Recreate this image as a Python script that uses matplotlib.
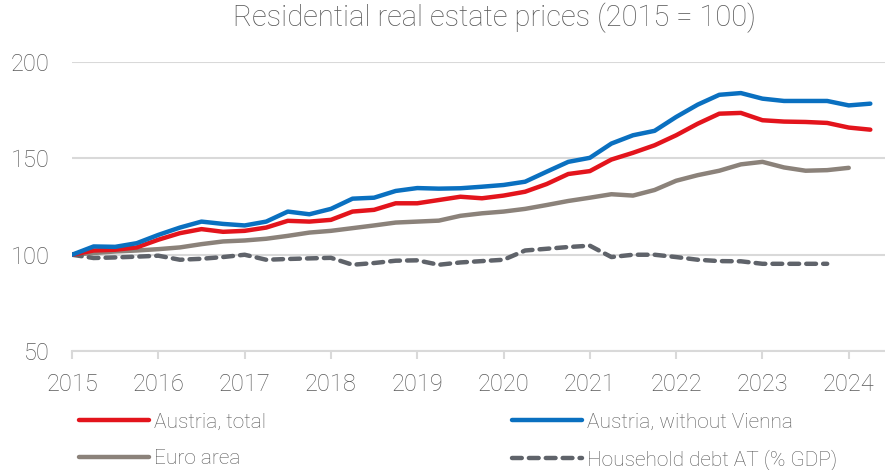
import numpy as np
import matplotlib.pyplot as plt

# quarterly data, 2015Q1 = 100
austria_total = [100, 102.2, 102.6, 103.8, 107.8, 111.2, 113.3, 111.9, 112.4, 114.1,
                 117.6, 117.2, 118.1, 122.4, 123.3, 126.7, 126.7, 128.4, 130.1, 129.3,
                 130.7, 132.7, 136.7, 141.9, 143.4, 149.4, 152.9, 156.8, 162.0, 168.0,
                 173.2, 173.6, 169.8, 169.1, 168.9, 168.4, 166.0, 164.9]
austria_ohne_wien = [100, 104.3, 104.1, 106.0, 110.3, 114.1, 117.2, 116.0, 115.2, 117.2,
                     122.4, 121.0, 123.8, 129.1, 129.6, 133.1, 134.6, 134.3, 134.5, 135.3,
                     136.2, 137.9, 143.1, 148.2, 150.3, 157.7, 162.0, 164.3, 171.5, 177.9,
                     183.0, 183.9, 181.0, 179.8, 179.8, 179.8, 177.5, 178.4]
euro_area = [100, 100.9, 101.7, 102.2, 102.9, 103.8, 105.5, 106.9, 107.4, 108.3,
             109.8, 111.5, 112.4, 113.8, 115.2, 116.7, 117.2, 117.7, 120.2, 121.5,
             122.4, 123.8, 125.8, 127.9, 129.6, 131.4, 130.7, 133.6, 138.4, 141.3,
             143.6, 146.9, 148.2, 145.3, 143.6, 143.9, 145.1]
household_debt = [100, 98.3, 98.6, 99.0, 99.5, 97.4, 97.9, 98.8, 100.0, 97.4,
                  97.8, 98.1, 98.4, 94.8, 95.7, 96.9, 97.1, 94.8, 96.0, 96.7,
                  97.4, 102.2, 103.1, 104.0, 104.7, 98.8, 100.0, 100.0, 98.8, 97.4,
                  96.7, 96.6, 95.3, 95.3, 95.3, 95.3]
jahre = list(range(2015, 2025))

def quartale(werte):
    return 2015 + 0.25 * np.arange(len(werte))

plt.rcParams['font.family'] = ['Roboto', 'DejaVu Sans']
txt_farbe = '#595959'
grid_farbe = '#d9d9d9'

fig = plt.figure(figsize=(8.85, 4.70), dpi=100)
ax = fig.add_axes([0.0814, 0.253, 0.9186, 0.615])

l_rot, = ax.plot(quartale(austria_total), austria_total, color='#e3141c', lw=3.2,
                 solid_capstyle='round', label='Austria, total', zorder=4)
l_blau, = ax.plot(quartale(austria_ohne_wien), austria_ohne_wien, color='#0a70c0', lw=3.2,
                  solid_capstyle='round', label='Austria, without Vienna', zorder=5)
l_grau, = ax.plot(quartale(euro_area), euro_area, color='#8b827a', lw=3.2,
                  solid_capstyle='round', label='Euro area', zorder=3)
l_debt, = ax.plot(quartale(household_debt), household_debt, color='#5f636a', lw=3.2,
                  ls=(0, (2.2, 1.6)), dash_capstyle='round',
                  label='Household debt AT (% GDP)', zorder=3)

ax.set_xlim(2015, 2024.42)
ax.set_ylim(50, 200)
ax.set_yticks([50, 100, 150, 200])
ax.set_xticks(jahre)
ax.grid(axis='y', color=grid_farbe, lw=1.5)
ax.set_axisbelow(True)
for s in ['top', 'right', 'left']:
    ax.spines[s].set_visible(False)
ax.spines['bottom'].set_color(grid_farbe)
ax.spines['bottom'].set_linewidth(1.5)
ax.tick_params(axis='x', colors=grid_farbe, length=6, width=1.5, labelcolor=txt_farbe,
               labelsize=17, pad=10)
ax.tick_params(axis='y', length=0, labelcolor=txt_farbe, labelsize=17, pad=16)
for lab in ax.get_xticklabels() + ax.get_yticklabels():
    lab.set_fontweight('light')

fig.suptitle('Residential real estate prices (2015 = 100)', x=0.559, y=0.995,
             fontsize=21, color=txt_farbe, fontweight='light')

leg = fig.legend([l_rot, l_grau, l_blau, l_debt],
                 [l.get_label() for l in [l_rot, l_grau, l_blau, l_debt]],
                 ncol=2, loc='upper left', bbox_to_anchor=(0.08, 0.14), frameon=False,
                 fontsize=15, handlelength=3.37, handletextpad=0.24, columnspacing=11.8,
                 labelspacing=0.85, borderaxespad=0)
for t in leg.get_texts():
    t.set_color(txt_farbe)
    t.set_fontweight('light')

fig.savefig('out.png', dpi=100)
